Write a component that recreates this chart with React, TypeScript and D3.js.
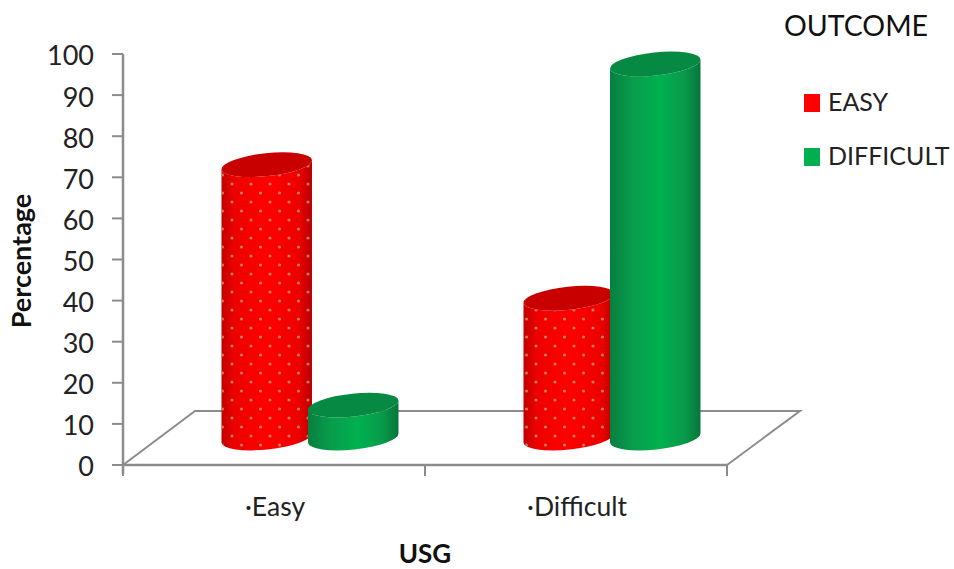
import React from "react";
import * as d3 from "d3";

const categories = ["Easy", "Difficult"];
const seriesNames = ["EASY", "DIFFICULT"];
const easyOutcome = [66.5, 34];
const difficultOutcome = [8, 91];
const yTicks = [0, 10, 20, 30, 40, 50, 60, 70, 80, 90, 100];

const W = 954;
const H = 569;
const FONT = "Lato, 'Open Sans', sans-serif";
const AXIS = "#8c8c8c";
const INK = "#222";

const x0 = 123;
const x1 = 727;
const depthX = 72;
const depthY = 54;
const rx = 45.5;
const ry = 11.5;
const tilt = -6;

const xCat = d3.scaleBand<string>().domain(categories).range([x0, x1]);
const xSeries = d3.scaleBand<string>().domain(seriesNames).range([-86.5, 86.5]);
const y = d3.scaleLinear().domain([0, 100]).range([465, 54]);

function Cylinder({ cx, value, kind }: { cx: number; value: number; kind: "red" | "green" }) {
  const base = y(0) - depthY / 2;
  const top = y(value) - depthY / 2;
  const rad = (tilt * Math.PI) / 180;
  const dx = rx * Math.cos(rad);
  const dy = rx * Math.sin(rad);
  const d =
    `M${cx - dx},${top - dy} L${cx - dx},${base - dy} ` +
    `A${rx},${ry} ${tilt} 0 0 ${cx + dx},${base + dy} ` +
    `L${cx + dx},${top + dy} A${rx},${ry} ${tilt} 0 1 ${cx - dx},${top - dy} Z`;
  return (
    <g>
      <path d={d} fill={`url(#${kind}Side)`} />
      {kind === "red" && <path d={d} fill="url(#dots)" />}
      <ellipse
        cx={cx}
        cy={top}
        rx={rx}
        ry={ry}
        transform={`rotate(${tilt} ${cx} ${top})`}
        fill={kind === "red" ? "#c90000" : "#068a43"}
      />
    </g>
  );
}

export default function App() {
  const floor = d3.line()([
    [x0, y(0)],
    [x0 + depthX, y(0) - depthY],
    [x1 + depthX + 1, y(0) - depthY],
    [x1, y(0)],
  ]);
  const tickX = [x0, (x0 + x1) / 2, x1];
  const barCentre = (cat: string, ser: string) =>
    (xCat(cat) as number) + xCat.bandwidth() / 2 + depthX / 2 +
    (xSeries(ser) as number) + xSeries.bandwidth() / 2;

  return (
    <svg
      width={W}
      height={H}
      style={{ position: "absolute", left: 0, top: 0, background: "#fff" }}
      fontFamily={FONT}
    >
      <defs>
        <linearGradient id="redSide" x1="0" x2="1" y1="0" y2="0">
          <stop offset="0" stopColor="#c20000" />
          <stop offset="0.15" stopColor="#ee0000" />
          <stop offset="0.5" stopColor="#ff0000" />
          <stop offset="0.85" stopColor="#ee0000" />
          <stop offset="1" stopColor="#b80000" />
        </linearGradient>
        <linearGradient id="greenSide" x1="0" x2="1" y1="0" y2="0">
          <stop offset="0" stopColor="#077f3f" />
          <stop offset="0.25" stopColor="#089c4c" />
          <stop offset="0.55" stopColor="#00b150" />
          <stop offset="0.82" stopColor="#099a4b" />
          <stop offset="1" stopColor="#067539" />
        </linearGradient>
        <pattern id="dots" width="19" height="18" patternUnits="userSpaceOnUse">
          <circle cx="4" cy="4" r="1.6" fill="#c88c6c" opacity="0.85" />
          <circle cx="13.5" cy="13" r="1.6" fill="#c88c6c" opacity="0.85" />
        </pattern>
      </defs>

      {/* floor of the 3D plot */}
      <path d={floor as string} fill="none" stroke={AXIS} strokeWidth={2} />
      <line x1={x0} x2={x1} y1={y(0)} y2={y(0)} stroke={AXIS} strokeWidth={2.5} />

      {/* value axis */}
      <line x1={x0} x2={x0} y1={y(100)} y2={y(0) + 9} stroke={AXIS} strokeWidth={2.5} />
      {yTicks.map((t) => (
        <g key={t}>
          <line x1={x0 - 11} x2={x0} y1={y(t)} y2={y(t)} stroke={AXIS} strokeWidth={2} />
          <text x={94} y={y(t) + 2} dy="0.35em" textAnchor="end" fontSize={27} fill={INK}>
            {t}
          </text>
        </g>
      ))}

      {/* category axis */}
      {tickX.map((t) => (
        <line key={t} x1={t} x2={t} y1={y(0)} y2={y(0) + 11} stroke={AXIS} strokeWidth={2} />
      ))}
      {categories.map((c) => (
        <text
          key={c}
          x={(xCat(c) as number) + xCat.bandwidth() / 2 + 1}
          y={516}
          textAnchor="middle"
          fontSize={26.5}
          fill={INK}
        >
          {"\u00b7" + c}
        </text>
      ))}

      {/* cylinders, back series first so the green ones overlap the red */}
      {categories.map((c, i) => (
        <g key={c}>
          <Cylinder cx={barCentre(c, seriesNames[0])} value={easyOutcome[i]} kind="red" />
          <Cylinder cx={barCentre(c, seriesNames[1])} value={difficultOutcome[i]} kind="green" />
        </g>
      ))}

      {/* axis titles */}
      <text
        transform="translate(31,261) rotate(-90)"
        textAnchor="middle"
        fontSize={27}
        fontWeight={700}
        fill="#111"
      >
        Percentage
      </text>
      <text x={425} y={563} textAnchor="middle" fontSize={26} fontWeight={700} fill="#111">
        USG
      </text>

      {/* legend */}
      <text x={784} y={36} fontSize={28.5} fill="#111">
        OUTCOME
      </text>
      {seriesNames.map((s, i) => (
        <g key={s}>
          <rect x={804} y={94 + i * 54} width={16} height={18} fill={i === 0 ? "#ff0000" : "#00b050"} />
          <text x={828} y={111 + i * 54} fontSize={25} fill={INK}>
            {s}
          </text>
        </g>
      ))}
    </svg>
  );
}
